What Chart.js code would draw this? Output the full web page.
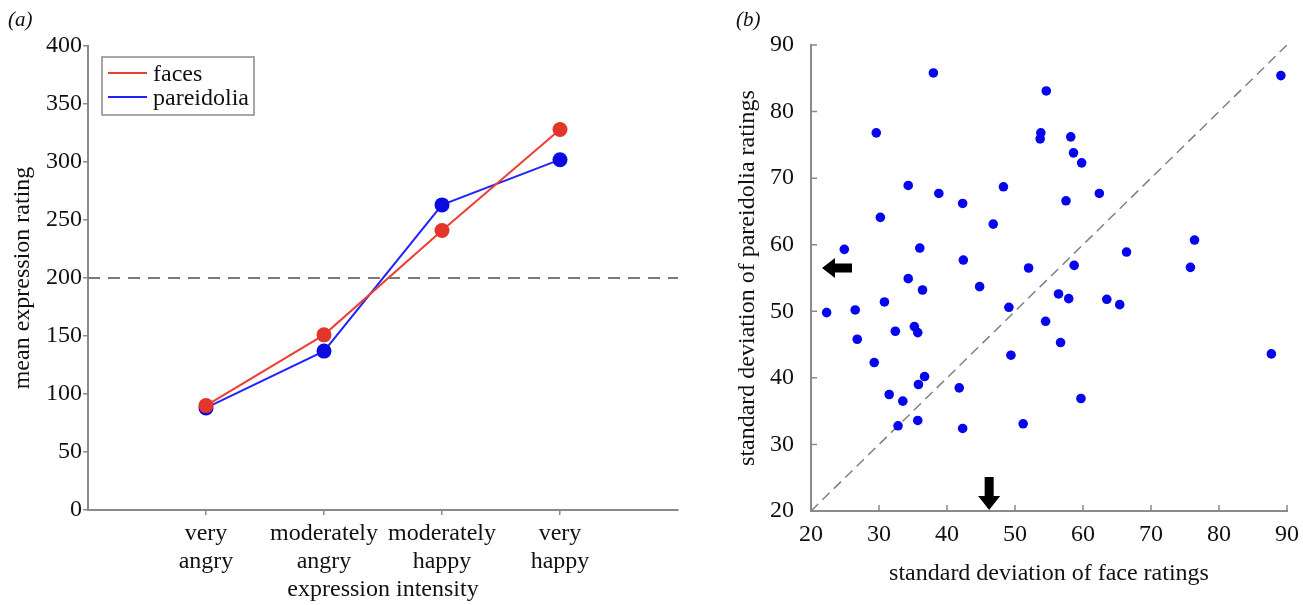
<!DOCTYPE html>
<html>
<head>
<meta charset="utf-8">
<script src="https://cdn.jsdelivr.net/npm/chart.js@4"></script>
<style>
  body { margin: 0; background: #fff; width: 1303px; height: 605px; overflow: hidden; position: relative; }
  .panel { position: absolute; top: 0; height: 605px; }
  .tag { position: absolute; top: 7px; font: italic 21px "Liberation Serif", serif; color: #111; }
</style>
</head>
<body>
<div class="panel" style="left:0;width:690px"><canvas id="lineChart" width="690" height="605"></canvas></div>
<div class="panel" style="left:690px;width:613px"><canvas id="scatterChart" width="613" height="605"></canvas></div>
<div class="tag" style="left:8px">(a)</div>
<div class="tag" style="left:736px">(b)</div>
<script>
// panel (a)
const categories = [["very", "angry"], ["moderately", "angry"], ["moderately", "happy"], ["very", "happy"]];
const categoryPos = [1, 2, 3, 4];
const facesMean = [90, 151, 241, 328];
const pareidoliaMean = [88, 137, 263, 302];
const neutralLevel = 200;

// panel (b)
const faceSD = [38.0, 54.6, 89.1, 29.6, 53.8, 53.7, 58.2, 58.6, 59.8, 34.3, 38.8, 48.3, 42.3, 57.5, 62.4, 46.8, 30.2, 24.9,
  36.0, 76.4, 66.4, 42.4, 58.7, 52.0, 75.8, 34.3, 36.4, 44.8, 30.8, 56.4, 57.9, 63.5, 65.4, 49.1, 22.3, 26.5,
  32.4, 35.2, 35.7, 26.8, 54.5, 56.7, 49.4, 87.7, 29.3, 36.7, 35.8, 41.8, 31.5, 33.5, 59.7, 35.7, 32.8, 42.3, 51.2];
const pareidoliaSD = [85.8, 83.1, 85.4, 76.8, 76.8, 75.9, 76.2, 73.8, 72.3, 68.9, 67.7, 68.7, 66.2, 66.6, 67.7, 63.1, 64.1, 59.3,
  59.5, 60.7, 58.9, 57.7, 56.9, 56.5, 56.6, 54.9, 53.2, 53.7, 51.4, 52.6, 51.9, 51.8, 51.0, 50.6, 49.8, 50.2,
  47.0, 47.7, 46.8, 45.8, 48.5, 45.3, 43.4, 43.6, 42.3, 40.2, 39.0, 38.5, 37.5, 36.5, 36.9, 33.6, 32.8, 32.4, 33.1];
const meanFaceSD = 46.2;
const meanPareidoliaSD = 56.5;

const serif = "'Liberation Serif', 'DejaVu Serif', serif";
const axisGrey = "#8a8a8a";
const textFont = { family: serif, size: 24, lineHeight: 1.17 };

const legendBox = {
  id: "legendBox",
  afterDatasetsDraw(chart) {
    const { ctx, chartArea } = chart;
    const x = chartArea.left + 14, y = chartArea.top + 11;
    ctx.save();
    ctx.fillStyle = "#fff";
    ctx.fillRect(x, y, 152, 58);
    ctx.strokeStyle = axisGrey;
    ctx.lineWidth = 1.5;
    ctx.strokeRect(x, y, 152, 58);
    ctx.font = "24px " + serif;
    ctx.textBaseline = "middle";
    chart.data.datasets.slice(0, 2).forEach((ds, i) => {
      const ly = y + 16 + i * 24;
      ctx.strokeStyle = ds.borderColor;
      ctx.lineWidth = 2;
      ctx.beginPath();
      ctx.moveTo(x + 6, ly);
      ctx.lineTo(x + 45, ly);
      ctx.stroke();
      ctx.fillStyle = "#111";
      ctx.fillText(ds.label, x + 51, ly + 2);
    });
    ctx.restore();
  }
};

new Chart(document.getElementById("lineChart"), {
  type: "line",
  data: {
    datasets: [
      { label: "faces", data: categoryPos.map((c, i) => ({ x: c, y: facesMean[i] })),
        borderColor: "#ef3e30", backgroundColor: "#e3362a", pointBackgroundColor: "#e3362a",
        borderWidth: 2, pointRadius: 7.5, pointBorderWidth: 0 },
      { label: "pareidolia", data: categoryPos.map((c, i) => ({ x: c, y: pareidoliaMean[i] })),
        borderColor: "#2323ff", backgroundColor: "#0b0be0", pointBackgroundColor: "#0b0be0",
        borderWidth: 2, pointRadius: 7.5, pointBorderWidth: 0 },
      { label: "neutral", data: [{ x: 0, y: neutralLevel }, { x: 5, y: neutralLevel }],
        borderColor: "#7a7a7a", borderWidth: 2, borderDash: [12, 8], pointRadius: 0, order: 5 }
    ]
  },
  options: {
    responsive: false,
    animation: false,
    events: [],
    layout: { padding: { top: 46, right: 12, left: 0, bottom: 0 } },
    plugins: { legend: { display: false }, tooltip: { enabled: false } },
    scales: {
      x: {
        type: "linear", min: 0, max: 5,
        afterBuildTicks: s => { s.ticks = categoryPos.map(v => ({ value: v })); },
        afterFit: s => { s.height = 95; },
        grid: { drawOnChartArea: false, tickLength: 5, color: axisGrey, lineWidth: 1.5 },
        border: { color: axisGrey, width: 2 },
        ticks: {
          padding: 5, color: "#111", maxRotation: 0, autoSkip: false, font: textFont,
          callback: v => categories[categoryPos.indexOf(v)] || ""
        },
        title: { display: true, text: "expression intensity", color: "#111",
          font: { family: serif, size: 24, lineHeight: 1.2 }, padding: { bottom: 1, top: 0 } }
      },
      y: {
        min: 0, max: 400,
        afterFit: s => { s.width = 88; },
        grid: { drawOnChartArea: false, tickLength: 5, color: axisGrey, lineWidth: 1.5 },
        border: { color: axisGrey, width: 2 },
        ticks: { stepSize: 50, padding: 1, color: "#111", font: textFont },
        title: { display: true, text: "mean expression rating", color: "#111",
          font: { family: serif, size: 24, lineHeight: 1.2 }, padding: { top: 8, bottom: 0 } }
      }
    }
  },
  plugins: [legendBox]
});

const innerTicks = {
  id: "innerTicks",
  afterDraw(chart) {
    const { ctx, chartArea, scales } = chart;
    ctx.save();
    ctx.strokeStyle = axisGrey;
    ctx.lineWidth = 1.5;
    ctx.beginPath();
    scales.x.ticks.forEach(t => {
      const px = scales.x.getPixelForValue(t.value);
      ctx.moveTo(px, chartArea.bottom);
      ctx.lineTo(px, chartArea.bottom - 6);
    });
    scales.y.ticks.forEach(t => {
      const py = scales.y.getPixelForValue(t.value);
      ctx.moveTo(chartArea.left, py);
      ctx.lineTo(chartArea.left + 6, py);
    });
    ctx.stroke();

    // mean markers
    ctx.fillStyle = "#000";
    const ay = scales.y.getPixelForValue(meanPareidoliaSD);
    const tipX = chartArea.left + 11;
    ctx.beginPath();
    ctx.moveTo(tipX, ay);
    ctx.lineTo(tipX + 13, ay - 10);
    ctx.lineTo(tipX + 13, ay - 4.5);
    ctx.lineTo(tipX + 30, ay - 4.5);
    ctx.lineTo(tipX + 30, ay + 4.5);
    ctx.lineTo(tipX + 13, ay + 4.5);
    ctx.lineTo(tipX + 13, ay + 10);
    ctx.closePath();
    ctx.fill();
    const ax = scales.x.getPixelForValue(meanFaceSD);
    const tipY = chartArea.bottom - 1;
    ctx.beginPath();
    ctx.moveTo(ax, tipY);
    ctx.lineTo(ax - 11, tipY - 14);
    ctx.lineTo(ax - 4.5, tipY - 14);
    ctx.lineTo(ax - 4.5, tipY - 33);
    ctx.lineTo(ax + 4.5, tipY - 33);
    ctx.lineTo(ax + 4.5, tipY - 14);
    ctx.lineTo(ax + 11, tipY - 14);
    ctx.closePath();
    ctx.fill();
    ctx.restore();
  }
};

new Chart(document.getElementById("scatterChart"), {
  type: "scatter",
  data: {
    datasets: [
      { label: "stimuli", data: faceSD.map((f, i) => ({ x: f, y: pareidoliaSD[i] })),
        backgroundColor: "#0505ee", pointRadius: 4.8, pointBorderWidth: 0 },
      { type: "line", label: "identity", data: [{ x: 20, y: 20 }, { x: 90, y: 90 }],
        borderColor: "#808080", borderWidth: 1.5, borderDash: [10, 6], pointRadius: 0, order: 5 }
    ]
  },
  options: {
    responsive: false,
    animation: false,
    events: [],
    layout: { padding: { top: 45, right: 16, left: 0, bottom: 0 } },
    plugins: { legend: { display: false }, tooltip: { enabled: false } },
    scales: {
      x: {
        type: "linear", min: 20, max: 90,
        afterFit: s => { s.height = 94; },
        grid: { display: false },
        border: { color: axisGrey, width: 2 },
        ticks: { stepSize: 10, padding: 2, color: "#111", maxRotation: 0, font: textFont },
        title: { display: true, text: "standard deviation of face ratings", color: "#111",
          font: { family: serif, size: 24, lineHeight: 1.2 }, padding: { bottom: 17, top: 0 } }
      },
      y: {
        min: 20, max: 90,
        afterFit: s => { s.width = 121; },
        grid: { display: false },
        border: { color: axisGrey, width: 2 },
        ticks: { stepSize: 10, padding: 9, color: "#111", font: textFont },
        title: { display: true, text: "standard deviation of pareidolia ratings", color: "#111",
          font: { family: serif, size: 24, lineHeight: 1.2 }, padding: { top: 43, bottom: 0 } }
      }
    }
  },
  plugins: [innerTicks]
});
</script>
</body>
</html>
